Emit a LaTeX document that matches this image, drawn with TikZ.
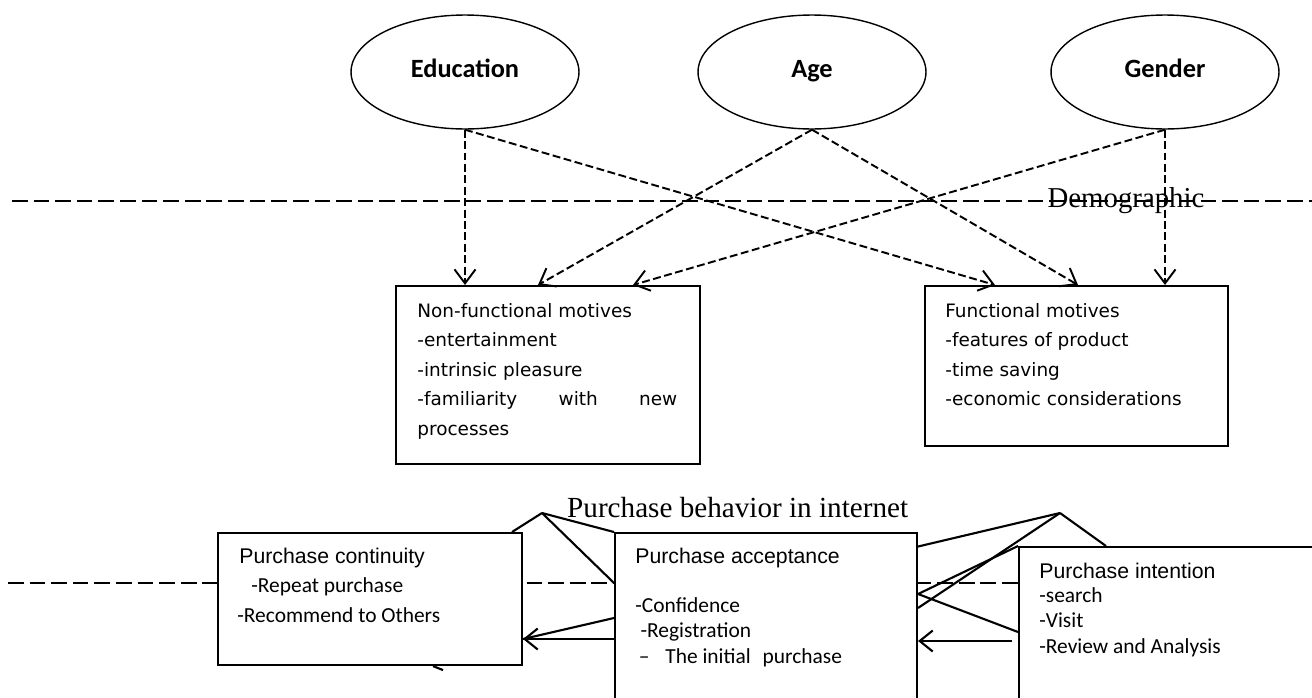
\documentclass[tikz,border=0pt]{standalone}
\usepackage{fontspec}
\usepackage{tikz}
\usetikzlibrary{arrows.meta,shapes.geometric,calc}
\setmainfont{Liberation Serif}
\newfontfamily\calfont{Carlito}
\newfontfamily\arfont{Liberation Sans}
\newfontfamily\tahfont{DejaVu Sans}

\tikzset{
  factor/.style={draw, ellipse, line width=0.8pt, minimum width=4.56cm, minimum height=2.28cm, inner sep=0pt, text height=1.6ex, text depth=0.15ex, font=\calfont\bfseries\fontsize{15}{17}\selectfont},
  motivebox/.style={draw, fill=white, line width=1.1pt, anchor=north west, inner sep=0pt},
  motivetext/.style={anchor=north west, align=left, inner sep=0pt, font=\tahfont\fontsize{10.5}{16.8}\selectfont},
  buybox/.style={draw, fill=white, line width=1.2pt, anchor=north west, inner sep=0pt},
  buytitle/.style={anchor=north west, inner sep=0pt, font=\arfont\fontsize{12.1}{14}\selectfont},
  buytext/.style={anchor=north west, align=left, inner sep=0pt, font=\calfont\fontsize{12.2}{14.6}\selectfont},
  dasharrow/.style={line width=1.1pt, dash pattern=on 4.5pt off 2pt, -{Straight Barb[length=2.8mm, width=4.2mm]}},
  solidarrow/.style={line width=1.2pt, -{Straight Barb[length=2.6mm, width=4.2mm]}},
  divider/.style={line width=0.85pt, dash pattern=on 8.9pt off 3.4pt}
}

\begin{document}
\begin{tikzpicture}[x=0.02cm, y=-0.02cm]
\useasboundingbox (0,0) rectangle (1312,697);

% demographic level
\node[factor] (edu) at (465,72) {Education};
\node[factor] (age) at (812,72) {Age};
\node[factor] (gen) at (1165,72) {Gender};

\draw[divider] (12,201) coordinate (demoL) -- (1312,201) coordinate (demoR);
\node[font=\fontsize{16.4}{18}\selectfont, anchor=base] (demo) at (1126,207) {Demographic};

\node[motivebox, minimum width=6.08cm, minimum height=3.56cm] (nonfun) at (395,285) {};
\node[motivetext] (nonfuntxt) at (417,303) {Non-functional motives\\-entertainment\\-intrinsic pleasure\\\makebox[5.2cm][s]{-familiarity\hfill with\hfill new}\\processes};
\node[motivebox, minimum width=6.06cm, minimum height=3.2cm] (fun) at (924,285) {};
\node[motivetext] (funtxt) at (945,303) {Functional motives\\-features of product\\-time saving\\-economic considerations};

\draw[dasharrow] (edu.south) -- (edu.south |- nonfun.north);
\draw[dasharrow] (edu.south) -- ([shift={(71,0)}]fun.north west);
\draw[dasharrow] (age.south) -- ([shift={(143,0)}]nonfun.north west);
\draw[dasharrow] (age.south) -- ([shift={(154,0)}]fun.north west);
\draw[dasharrow] (gen.south) -- ([shift={(238,0)}]nonfun.north west);
\draw[dasharrow] (gen.south) -- (gen.south |- fun.north);

% purchase behavior level
\node[font=\fontsize{16.6}{18}\selectfont, anchor=base west] (behav) at (561,517) {Purchase behavior in internet};
\coordinate (apexL) at (542,513);
\coordinate (apexR) at (1060,513);

\draw[divider] (8,583) coordinate (buyL) -- (1018,583) coordinate (buyR);

\draw[line width=1.2pt] (apexL) -- (512,532);
\draw[line width=1.2pt] (apexL) -- (614,532);
\draw[line width=1.2pt] (apexL) -- (614,583);
\draw[line width=1.2pt] (apexR) -- (916,547);
\draw[line width=1.2pt] (apexR) -- (1106,546);
\draw[line width=1.2pt] (apexR) -- (918,608);

\node[buybox, minimum width=6.08cm, minimum height=2.64cm] (cont) at (217,532) {};
\node[buytitle] (conttitle) at (239,548) {Purchase continuity};
\node[buytext, font=\calfont\fontsize{12.2}{17}\selectfont] (conttxt) at (237,577) {\hspace{8pt}-Repeat purchase\\-Recommend to Others};

\node[buybox, minimum width=6.04cm, minimum height=4.8cm] (acc) at (614,532) {};
\node[buytitle] (acctitle) at (635,548) {Purchase acceptance};
\node[buytext] (acctxt) at (635,597) {-Confidence\\\hspace{3pt}-Registration\\\hspace{2pt}–\hspace{9pt}The initial\hspace{4pt} purchase};

\node[buybox, minimum width=7cm, minimum height=4.8cm] (intent) at (1018,546) {};
\node[buytitle] (intenttitle) at (1039,563) {Purchase intention};
\node[buytext] (intenttxt) at (1039,587) {-search\\-Visit\\-Review and Analysis};

\draw[line width=1.2pt] ([shift={(0,62)}]acc.north east) -- (intent.north west);
\draw[line width=1.2pt] ([shift={(0,62)}]acc.north east) -- ([shift={(0,86)}]intent.north west);
\draw[solidarrow] ([shift={(-6,95)}]intent.north west) -- ([shift={(0,109)}]acc.north east);
\draw[line width=1.2pt] ([shift={(0,86)}]acc.north west) -- ([shift={(0,107)}]cont.north east);
\draw[solidarrow] ([shift={(0,107)}]acc.north west) -- ([shift={(0,107)}]cont.north east);
\draw[line width=1.2pt] ([shift={(-90,0)}]cont.south east) -- ([shift={(-80,4)}]cont.south east);
\end{tikzpicture}
\end{document}
